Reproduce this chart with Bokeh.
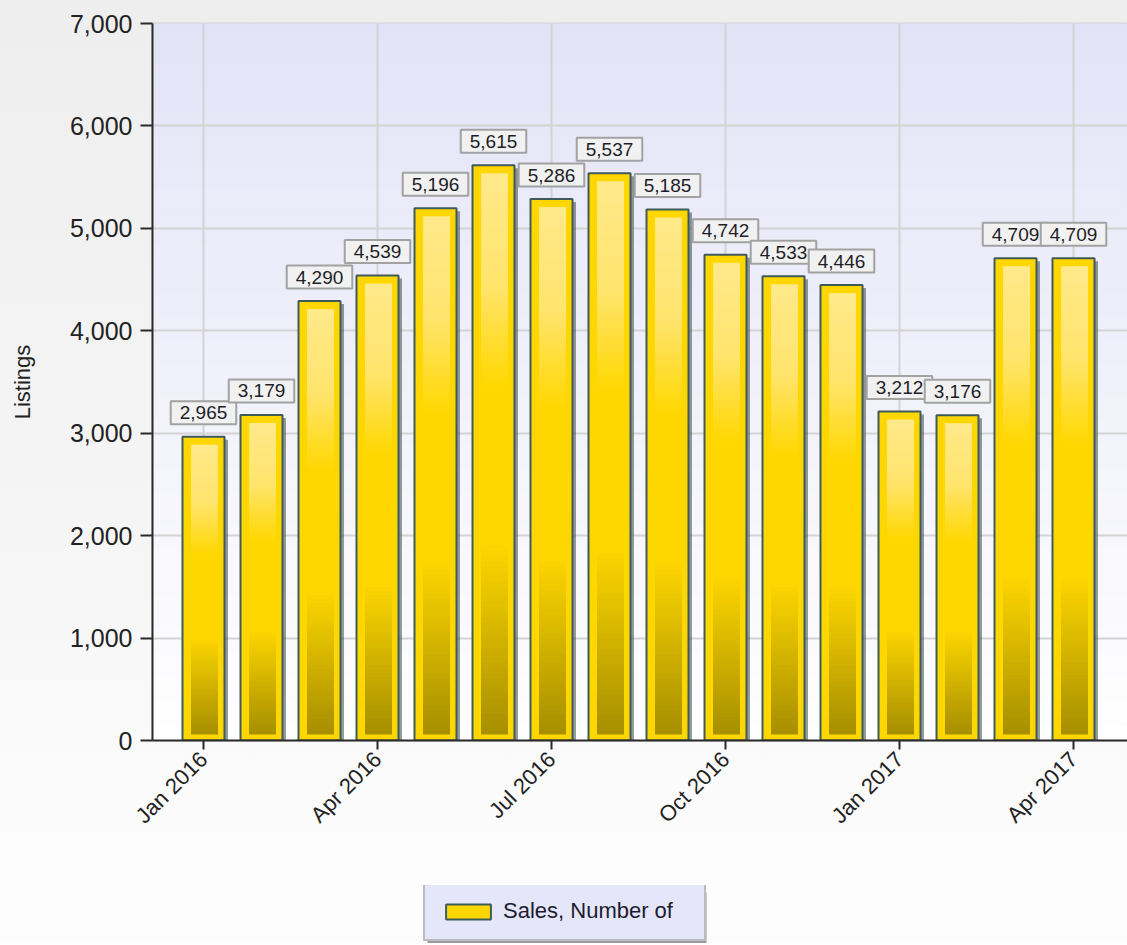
import math
from bokeh.plotting import figure
from bokeh.layouts import column
from bokeh.models import (FixedTicker, NumeralTickFormatter, Label, Legend,
                          LegendItem, Range1d)
from bokeh.embed import file_html
from bokeh.resources import INLINE

# ---------------- data ----------------
months = ["Jan 2016", "Feb 2016", "Mar 2016", "Apr 2016", "May 2016", "Jun 2016",
          "Jul 2016", "Aug 2016", "Sep 2016", "Oct 2016", "Nov 2016", "Dec 2016",
          "Jan 2017", "Feb 2017", "Mar 2017", "Apr 2017"]
sales = [2965, 3179, 4290, 4539, 5196, 5615, 5286, 5537, 5185, 4742, 4533, 4446,
         3212, 3176, 4709, 4709]
tick_labels = ["Jan 2016", "Apr 2016", "Jul 2016", "Oct 2016", "Jan 2017", "Apr 2017"]
y_ticks = [0, 1000, 2000, 3000, 4000, 5000, 6000, 7000]
series_name = "Sales, Number of"
y_title = "Listings"

# ---------------- layout ----------------
FONT = "Liberation Sans"
W = 1127
H1, H2 = 885, 58
B_LEFT, B_TOP, B_RIGHT = 152, 23, 0
FRAME_BOTTOM = 740
B_BOTTOM = H1 - FRAME_BOTTOM
frame_w = W - B_LEFT - B_RIGHT
frame_h = H1 - B_TOP - B_BOTTOM
px_per_x = 58.0
x_start = -51.0 / px_per_x
x_end = x_start + frame_w / px_per_x
y_max = y_ticks[-1]
px_per_y = frame_h / y_max

p = figure(width=W, height=H1, output_backend="svg", toolbar_location=None,
           x_range=Range1d(x_start, x_end), y_range=Range1d(0, y_max),
           min_border_left=B_LEFT, min_border_top=B_TOP,
           min_border_bottom=B_BOTTOM, min_border_right=B_RIGHT)
p.border_fill_color = None
p.styles = {"background": "linear-gradient(180deg, #eeeeee 0%, #f6f6f6 65%, #fdfdfd 100%)"}
p.background_fill_color = "#ffffff"
p.outline_line_color = "#d2d2d2"
p.outline_line_width = 2


def hx(c):
    return tuple(int(c[i:i + 2], 16) for i in (1, 3, 5))


def mix(c1, c2, t):
    a, b = hx(c1), hx(c2)
    return "#%02x%02x%02x" % tuple(round(a[i] + (b[i] - a[i]) * t) for i in range(3))


# plot-area gradient (lavender at top -> white at bottom)
NB = 90
bl, bt, bc = [], [], []
for k in range(NB):
    b0 = y_max * k / NB
    bl.append(b0)
    bt.append(b0 + y_max / NB * 1.05)
    bc.append(mix("#ffffff", "#e3e3f7", (k + 0.5) / NB))
p.quad(left=x_start - 1, right=x_end + 1, bottom=bl, top=bt, fill_color=bc,
       line_color=None, level="image")

# ---------------- axes / grid ----------------
tick_pos = [months.index(t) for t in tick_labels]
p.xaxis.ticker = FixedTicker(ticks=tick_pos)
p.xaxis.major_label_overrides = {pos: lab for pos, lab in zip(tick_pos, tick_labels)}
p.xaxis.major_label_orientation = math.pi / 4
p.yaxis.ticker = FixedTicker(ticks=y_ticks)
p.yaxis.formatter = NumeralTickFormatter(format="0,0")
p.yaxis.axis_label = y_title

for ax in (p.xaxis[0], p.yaxis[0]):
    ax.axis_line_color = "#2a2a2a"
    ax.axis_line_width = 2
    ax.major_tick_line_color = "#2a2a2a"
    ax.major_tick_line_width = 2
    ax.major_tick_in = 0
    ax.minor_tick_line_color = None
    ax.major_label_text_font = FONT
    ax.major_label_text_color = "#222222"
p.yaxis.major_tick_out = 12
p.yaxis.major_label_standoff = 8
p.yaxis.major_label_text_font_size = "25px"
p.xaxis.major_tick_out = 9
p.xaxis.major_label_standoff = 6
p.xaxis.major_label_text_font_size = "22px"
p.yaxis.axis_label_text_font = FONT
p.yaxis.axis_label_text_font_size = "22px"
p.yaxis.axis_label_text_font_style = "normal"
p.yaxis.axis_label_text_color = "#222222"
p.yaxis.axis_label_standoff = 32

p.xgrid.ticker = FixedTicker(ticks=tick_pos)
p.ygrid.ticker = FixedTicker(ticks=y_ticks)
for g in (p.xgrid[0], p.ygrid[0]):
    g.grid_line_color = "#d3d3d3"
    g.grid_line_width = 2

# ---------------- bars ----------------
xs = list(range(len(months)))
half_w = 21.0 / px_per_x
half_in = 13.5 / px_per_x
sh_dx = 3.5 / px_per_x
sh_dy = 3.0 / px_per_y
BAR_FILL, BAR_LINE = "#ffd700", "#3e5a5a"

p.quad(left=[x - half_w + sh_dx for x in xs], right=[x + half_w + sh_dx for x in xs],
       bottom=0, top=[v - sh_dy for v in sales],
       fill_color="#404848", fill_alpha=0.55, line_color=None)

p.quad(left=[x - half_w for x in xs], right=[x + half_w for x in xs],
       bottom=0, top=sales, fill_color=BAR_FILL, line_color=BAR_LINE, line_width=2)


def bar_color(t):
    if t < 0.34:
        return mix("#a68e00", "#ffd700", t / 0.34)
    if t < 0.62:
        return "#ffd700"
    if t < 0.8:
        return mix("#ffd700", "#ffe46c", (t - 0.62) / 0.18)
    return mix("#ffe46c", "#ffe98a", (t - 0.8) / 0.2)


NS = 110
il, ir, ib, it, ic = [], [], [], [], []
inset_top = 8.0 / px_per_y
inset_bot = 6.0 / px_per_y
for x, v in zip(xs, sales):
    lo, hi = inset_bot, v - inset_top
    step = (hi - lo) / NS
    for k in range(NS):
        il.append(x - half_in + 1.0 / px_per_x)
        ir.append(x + half_in + 1.0 / px_per_x)
        ib.append(lo + step * k)
        it.append(min(hi, lo + step * (k + 1.6)))
        ic.append(bar_color((k + 0.5) / NS))
p.quad(left=il, right=ir, bottom=ib, top=it, fill_color=ic, line_color=None)

# ---------------- value labels ----------------
for x, v in zip(xs, sales):
    p.add_layout(Label(x=x, y=v, text=f"{v:,}", y_offset=24,
                       text_align="center", text_baseline="middle",
                       text_font=FONT, text_font_size="19px", text_color="#1e1e28",
                       background_fill_color="#f1f1f1", background_fill_alpha=1.0,
                       border_line_color="#a2a2a2", border_line_width=2,
                       padding=dict(left=9, right=9, top=5, bottom=5)))

# ---------------- legend strip (second figure; its frame aligns with the chart frame) ----
p2 = figure(width=W, height=H2, output_backend="svg", toolbar_location=None,
            x_range=Range1d(0, frame_w), y_range=Range1d(0, H2),
            min_border_left=B_LEFT, min_border_right=B_RIGHT,
            min_border_top=0, min_border_bottom=0,
            x_axis_type=None, y_axis_type=None)
p2.grid.visible = False
p2.outline_line_color = None
p2.border_fill_color = None
p2.background_fill_color = None
p2.styles = {"background": "#fdfdfd"}

LEG_X, LEG_Y, LEG_W, LEG_H = 423 - B_LEFT, 2, 279, 53
GLYPH_W = 56
# drop shadow of the legend box
p2.quad(left=[LEG_X + 4], right=[LEG_X + LEG_W + 4], bottom=[LEG_Y - 4],
        top=[LEG_Y + LEG_H - 4], fill_color="#5a5a5a", fill_alpha=0.6, line_color=None)
# proxy renderer (outside the visible range) carrying the bar style for the legend swatch
proxy = p2.quad(left=[-20], right=[-10], bottom=[-20], top=[-10],
                fill_color=BAR_FILL, line_color=BAR_LINE, line_width=2)

legend = Legend(items=[LegendItem(label=series_name, renderers=[proxy])],
                location=(LEG_X, LEG_Y), orientation="vertical",
                glyph_width=GLYPH_W, glyph_height=19, label_standoff=7,
                label_width=LEG_W - 30 - GLYPH_W - 7, padding=15, margin=0, spacing=0,
                label_text_font=FONT, label_text_font_size="22px",
                label_text_color="#1c1c30",
                background_fill_color="#e6e6fa", background_fill_alpha=1.0,
                border_line_color="#8f8f8f", border_line_width=2)
p2.add_layout(legend, "center")

layout = column(p, p2, spacing=0)
open("out.html", "w").write(file_html(layout, INLINE))
